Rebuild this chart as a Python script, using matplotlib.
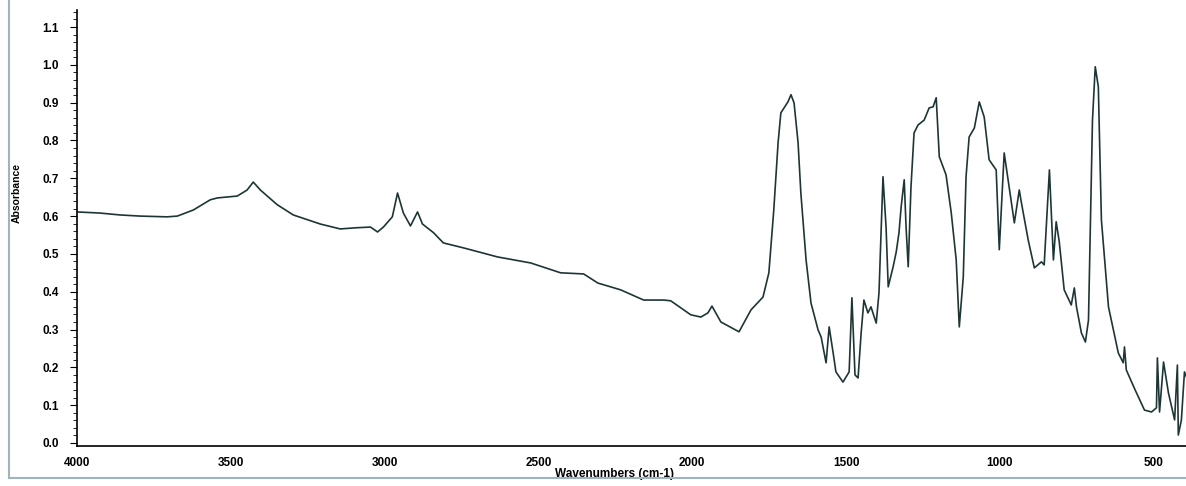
import matplotlib
matplotlib.use("Agg")
import matplotlib.pyplot as plt
from matplotlib.ticker import MultipleLocator, FixedLocator
from matplotlib.lines import Line2D

# Wavenumber (cm-1) and absorbance
wavenumber = [4000, 3925, 3860, 3795, 3707, 3674, 3622, 3567, 3544, 3479,
              3447, 3427, 3404, 3349, 3297, 3209, 3144, 3095, 3046, 3023,
              3004, 2975, 2958, 2939, 2916, 2893, 2877, 2841, 2809, 2744,
              2633, 2525, 2428, 2353, 2307, 2233, 2158, 2093, 2070, 2005,
              1972, 1949, 1936, 1907, 1848, 1809, 1770, 1751, 1735, 1721,
              1712, 1689, 1679, 1669, 1656, 1647, 1630, 1614, 1591, 1581,
              1565, 1555, 1542, 1533, 1510, 1490, 1481, 1471, 1461, 1451,
              1442, 1429, 1419, 1402, 1393, 1380, 1370, 1363, 1347, 1337,
              1328, 1321, 1311, 1305, 1298, 1289, 1279, 1266, 1246, 1230,
              1217, 1207, 1197, 1175, 1158, 1142, 1132, 1119, 1110, 1100,
              1083, 1067, 1051, 1035, 1012, 1002, 986, 970, 953, 937,
              930, 908, 888, 865, 856, 839, 826, 817, 807, 791,
              768, 758, 751, 735, 722, 712, 699, 690, 680, 670,
              647, 615, 599, 595, 589, 563, 530, 507, 491, 488,
              481, 468, 452, 432, 423, 420, 410, 400, 390]
absorbance = [0.611, 0.608, 0.603, 0.600, 0.598, 0.600, 0.616, 0.643, 0.648, 0.653,
              0.669, 0.690, 0.669, 0.630, 0.603, 0.579, 0.566, 0.569, 0.571, 0.558,
              0.571, 0.598, 0.661, 0.608, 0.574, 0.611, 0.579, 0.556, 0.529, 0.516,
              0.492, 0.476, 0.450, 0.447, 0.423, 0.405, 0.378, 0.378, 0.376, 0.339,
              0.333, 0.344, 0.362, 0.320, 0.294, 0.352, 0.386, 0.450, 0.616, 0.794,
              0.873, 0.902, 0.921, 0.899, 0.794, 0.661, 0.484, 0.370, 0.299, 0.280,
              0.212, 0.307, 0.238, 0.188, 0.161, 0.188, 0.384, 0.180, 0.172, 0.291,
              0.378, 0.344, 0.360, 0.317, 0.397, 0.704, 0.571, 0.413, 0.466, 0.505,
              0.556, 0.624, 0.696, 0.571, 0.466, 0.677, 0.820, 0.841, 0.854, 0.886,
              0.889, 0.913, 0.757, 0.709, 0.608, 0.484, 0.307, 0.439, 0.704, 0.809,
              0.833, 0.902, 0.862, 0.749, 0.722, 0.511, 0.767, 0.677, 0.582, 0.669,
              0.635, 0.537, 0.463, 0.479, 0.471, 0.722, 0.484, 0.585, 0.532, 0.405,
              0.365, 0.410, 0.360, 0.291, 0.267, 0.325, 0.854, 0.995, 0.942, 0.590,
              0.360, 0.238, 0.212, 0.254, 0.193, 0.145, 0.087, 0.082, 0.093, 0.225,
              0.082, 0.214, 0.132, 0.061, 0.206, 0.021, 0.061, 0.188, 0.167]

x_ticks = [4000, 3500, 3000, 2500, 2000, 1500, 1000, 500]
y_ticks = [0.0, 0.1, 0.2, 0.3, 0.4, 0.5, 0.6, 0.7, 0.8, 0.9, 1.0, 1.1]

plt.rcParams['font.family'] = ['Liberation Sans', 'DejaVu Sans']

fig = plt.figure(figsize=(11.86, 4.86), dpi=100)
ax = fig.add_axes([77 / 1186, 1 - 446 / 486, 1 - 77 / 1186, (446 - 10) / 486])

ax.plot(wavenumber, absorbance, color='#1e3535', linewidth=1.2)

ax.set_xlim(4000, 395)
ax.set_ylim(-0.008, 1.145)

ax.xaxis.set_major_locator(FixedLocator(x_ticks))
ax.set_xticklabels([str(v) for v in x_ticks], fontsize=8.5, fontweight='bold')
ax.tick_params(axis='x', length=0, pad=8)

ax.yaxis.set_major_locator(FixedLocator(y_ticks))
ax.set_yticklabels([f"{v:.1f}" for v in y_ticks], fontsize=8.5, fontweight='bold')
ax.yaxis.set_minor_locator(MultipleLocator(0.02))
ax.tick_params(axis='y', which='major', length=5, width=0.8, pad=8)
ax.tick_params(axis='y', which='minor', length=3, width=0.6)

for side in ('top', 'right'):
    ax.spines[side].set_visible(False)
ax.spines['left'].set_linewidth(1.2)
ax.spines['bottom'].set_linewidth(1.2)

ax.set_ylabel('Absorbance', fontsize=7.5, fontweight='bold')
ax.yaxis.set_label_coords(-0.050, 0.58)
ax.set_xlabel('Wavenumbers (cm-1)', fontsize=8.5, fontweight='bold')
ax.xaxis.set_label_coords(0.485, -0.050)

# scanned page border
fig.add_artist(Line2D([9 / 1186, 9 / 1186], [1 - 478 / 486, 1.0], transform=fig.transFigure,
                      color='#9fb4bd', linewidth=1.5))
fig.add_artist(Line2D([9 / 1186, 1.0], [1 - 478 / 486, 1 - 478 / 486], transform=fig.transFigure,
                      color='#9fb4bd', linewidth=1.5))

fig.savefig('out.png', dpi=100)
